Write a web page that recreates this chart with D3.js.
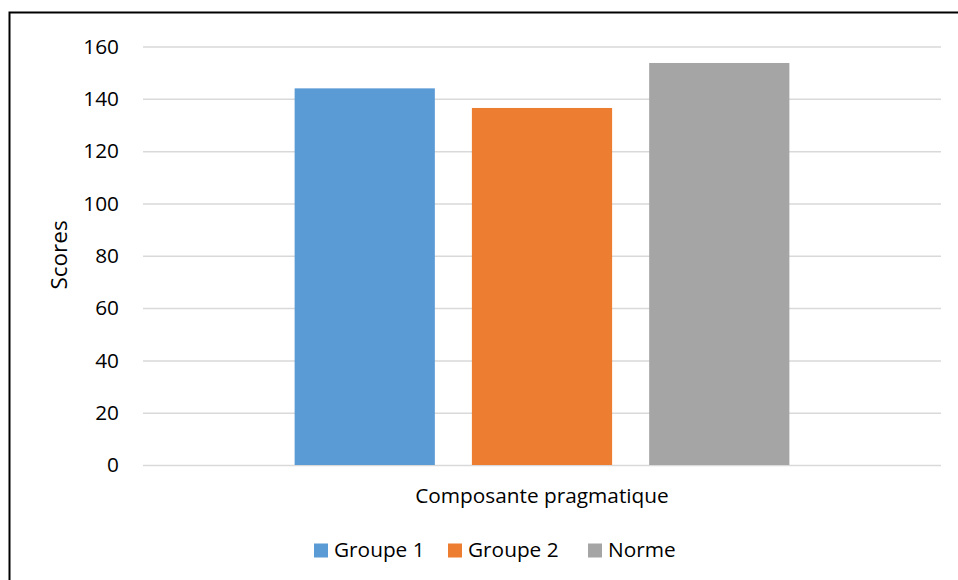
<!DOCTYPE html>
<html>
<head>
<meta charset="utf-8">
<script src="https://cdn.jsdelivr.net/npm/d3@7"></script>
<style>
  html, body { margin: 0; padding: 0; background: #fff; }
  svg { display: block; }
  text { font-family: "Open Sans", "Lato", sans-serif; fill: #000; font-variant-ligatures: none; }
</style>
</head>
<body>
<svg id="chart" width="958" height="580"></svg>
<script>
const categories = ["Composante pragmatique"];
const seriesNames = ["Groupe 1", "Groupe 2", "Norme"];
const seriesValues = [144, 136.5, 153.7];
const seriesColors = ["#5B9BD5", "#ED7D31", "#A5A5A5"];
const yTicks = [0, 20, 40, 60, 80, 100, 120, 140, 160];
const yTitle = "Scores";

const svg = d3.select("#chart");
const plot = { left: 143, right: 941, top: 46.5, bottom: 465 };
const fontSize = 20.8;
const fontFamily = "'Open Sans', Lato, sans-serif";

// outer border (chart area frame)
svg.append("rect")
  .attr("x", 9.5).attr("y", 12.5)
  .attr("width", 960).attr("height", 580)
  .attr("fill", "none").attr("stroke", "#000").attr("stroke-width", 2);

const y = d3.scaleLinear().domain([0, 160]).range([plot.bottom, plot.top]);
const x0 = d3.scaleBand().domain(categories).range([plot.left, plot.right]).paddingInner(0).paddingOuter(0);
const groupPad = 0.19;
const x1 = d3.scaleBand().domain(seriesNames)
  .range([x0.bandwidth() * groupPad, x0.bandwidth() * (1 - groupPad)])
  .paddingInner(0.209).paddingOuter(0);

// gridlines + tick labels
const yAxis = d3.axisLeft(y).tickValues(yTicks).tickSize(-(plot.right - plot.left)).tickPadding(24);
const gy = svg.append("g").attr("transform", `translate(${plot.left},0)`).call(yAxis);
gy.select(".domain").remove();
gy.selectAll(".tick line").attr("stroke", "#d9d9d9").attr("stroke-width", 1.5);
gy.selectAll(".tick text").attr("font-size", fontSize).attr("font-family", fontFamily).attr("fill", "#000");

// bars
const data = seriesNames.map((s, i) => ({ series: s, value: seriesValues[i], color: seriesColors[i], cat: categories[0] }));
svg.append("g").selectAll("rect").data(data).join("rect")
  .attr("x", d => x0(d.cat) + x1(d.series))
  .attr("y", d => y(d.value))
  .attr("width", x1.bandwidth())
  .attr("height", d => y(0) - y(d.value))
  .attr("fill", d => d.color);

// category label
svg.append("text")
  .attr("x", x0(categories[0]) + x0.bandwidth() / 2)
  .attr("y", 503)
  .attr("text-anchor", "middle")
  .attr("font-size", fontSize)
  .text(categories[0]);

// y title
svg.append("text")
  .attr("transform", `translate(67,255) rotate(-90)`)
  .attr("text-anchor", "middle")
  .attr("font-size", 22.5)
  .text(yTitle);

// legend
const legendItemsX = [314, 448, 588];
const lg = svg.append("g");
seriesNames.forEach((s, i) => {
  lg.append("rect").attr("x", legendItemsX[i]).attr("y", 543.5).attr("width", 14).attr("height", 14).attr("fill", seriesColors[i]);
  lg.append("text").attr("x", legendItemsX[i] + 20).attr("y", 557).attr("font-size", fontSize).text(s);
});
</script>
</body>
</html>
